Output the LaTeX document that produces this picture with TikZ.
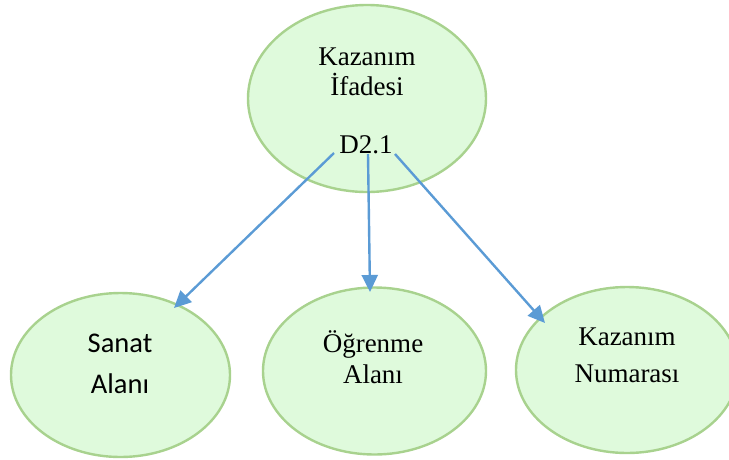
\documentclass[tikz,border=0pt]{standalone}
\usepackage{fontspec}
\setmainfont{Liberation Serif}
\newfontfamily\calibrifont{Carlito}
\usetikzlibrary{shapes.geometric,arrows.meta}

\definecolor{bubblefill}{RGB}{223,250,220}
\definecolor{bubbleline}{RGB}{168,210,142}
\definecolor{linkblue}{RGB}{91,155,213}

\tikzset{
  bubble/.style={ellipse, draw=bubbleline, fill=bubblefill, line width=2.4pt, inner sep=0pt},
  txt/.style={anchor=base, inner sep=0pt, font=\fontsize{27}{31}\selectfont},
  sanstxt/.style={anchor=base, inner sep=0pt, font=\calibrifont\fontsize{28.5}{32}\selectfont},
  link/.style={draw=linkblue, line width=2.4pt, -{Triangle[length=17pt,width=16pt]}}
}

\begin{document}
\begin{tikzpicture}[x=1pt,y=-1pt]
  \useasboundingbox (0,0) rectangle (729,459);

  % ellipses
  \node[bubble, minimum width=238pt, minimum height=187pt] (top) at (367,98.5) {};
  \node[bubble, minimum width=219pt, minimum height=164pt] (sanat) at (120.5,375) {};
  \node[bubble, minimum width=223pt, minimum height=167pt] (ogrenme) at (374.5,371) {};
  \node[bubble, minimum width=222pt, minimum height=166pt] (numara) at (627,370) {};

  % labels
  \node[txt] (t1) at (367,65) {Kazanım};
  \node[txt] (t2) at (367,95) {İfadesi};
  \node[txt] (t3) at (366,153) {D2.1};

  \node[sanstxt] (s1) at (120,352) {Sanat};
  \node[sanstxt] (s2) at (120,393) {Alanı};

  \node[txt] (o1) at (373,352) {Öğrenme};
  \node[txt] (o2) at (373,383) {Alanı};

  \node[txt] (n1) at (627,345) {Kazanım};
  \node[txt] (n2) at (627,382) {Numarası};

  % connector ends
  \coordinate (fromL) at (334,153);
  \coordinate (fromM) at (368,154);
  \coordinate (fromR) at (395,154);
  \coordinate (toL) at (174,308);
  \coordinate (toM) at (370,292);
  \coordinate (toR) at (545,323);

  \draw[link] (fromL) -- (toL);
  \draw[link] (fromM) -- (toM);
  \draw[link] (fromR) -- (toR);
\end{tikzpicture}
\end{document}
